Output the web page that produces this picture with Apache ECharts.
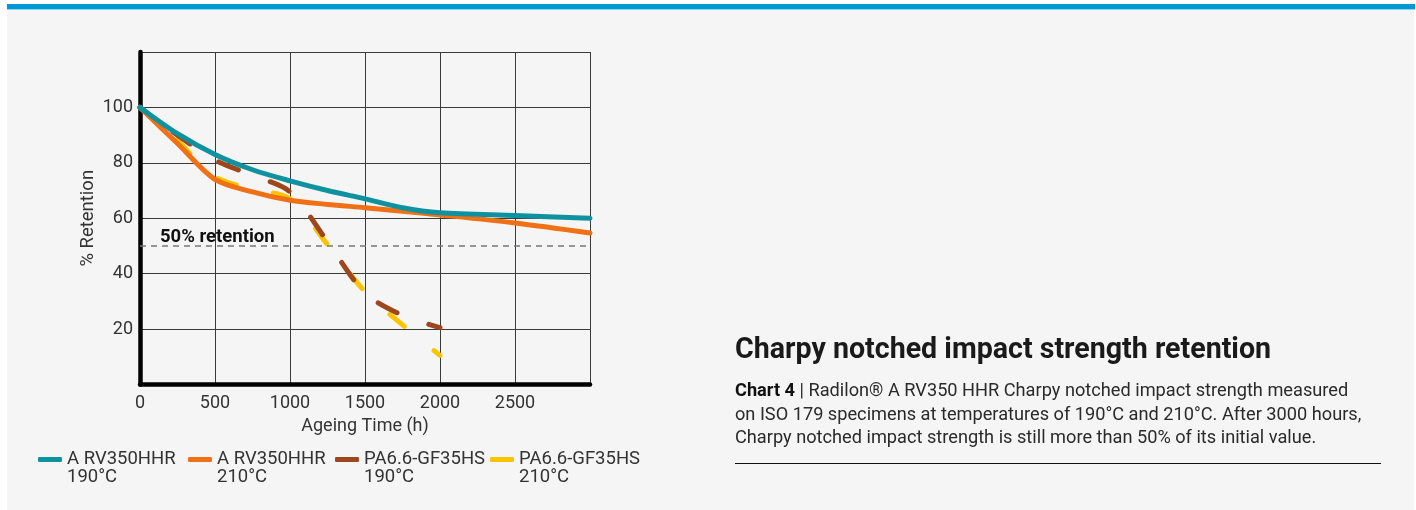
<!DOCTYPE html>
<html>
<head>
<meta charset="utf-8">
<script src="https://cdn.jsdelivr.net/npm/echarts@6/dist/echarts.min.js"></script>
<style>
  html, body { margin: 0; padding: 0; background: #ffffff; }
  #chart { width: 1416px; height: 510px; }
</style>
</head>
<body>
<div id="chart"></div>
<script>
// ---- Data ----
const hoursRV = [0, 250, 500, 750, 1000, 1250, 1500, 1750, 2000, 2500, 3000];
const rv190 = [100, 90.5, 83, 77.5, 73.5, 70, 67, 63.8, 62, 61, 60];
const rv210 = [100, 87, 74, 69.5, 66.5, 65, 63.8, 62.5, 61.2, 58.3, 54.7];

const hoursPA = [0, 250, 500, 750, 1000, 1250, 1500, 1750, 2000];
const pa190 = [100, 90, 81, 75.5, 69.5, 51.5, 33, 25, 20.5];
const pa210 = [100, 88, 75, 70.5, 67, 50.5, 33.5, 21.5, 10.5];

const seriesNames = ['A RV350HHR\n190°C', 'A RV350HHR\n210°C', 'PA6.6-GF35HS\n190°C', 'PA6.6-GF35HS\n210°C'];
const retentionLimit = 50;
const retentionLabel = '50% retention';

const titleText = 'Charpy notched impact strength retention';
const descLines = [
  '{b|Chart 4} | Radilon® A RV350 HHR Charpy notched impact strength measured',
  'on ISO 179 specimens at temperatures of 190°C and 210°C. After 3000 hours,',
  'Charpy notched impact strength is still more than 50% of its initial value.'
];

const colors = ['#0f92a0', '#f07015', '#9e461c', '#fbc400'];

function pairs(xs, ys) { return xs.map((x, i) => [x, ys[i]]); }

const chart = echarts.init(document.getElementById('chart'), null, { renderer: 'canvas' });

const FONT = 'Roboto, "Noto Sans", sans-serif';

const legendLefts = [38, 188, 335, 490];

const option = {
  backgroundColor: '#ffffff',
  animation: false,
  textStyle: { fontFamily: FONT },
  grid: { left: 140, right: 826, top: 52, bottom: 125.5, containLabel: false },
  xAxis: {
    type: 'value', min: 0, max: 3000, interval: 500,
    name: 'Ageing Time (h)', nameLocation: 'middle', nameGap: 32,
    nameTextStyle: { fontSize: 18, color: '#333', fontFamily: FONT },
    axisLine: { show: true, onZero: false, lineStyle: { color: '#000', width: 4.5 } },
    axisTick: { show: false },
    axisLabel: { fontSize: 18, color: '#333', margin: 10, fontFamily: FONT,
      formatter: v => (v === 3000 ? '' : String(v)) },
    splitLine: { show: true, lineStyle: { color: '#3a3a3a', width: 1 } }
  },
  yAxis: {
    type: 'value', min: 0, max: 120, interval: 20,
    name: '% Retention', nameLocation: 'middle', nameGap: 42.5,
    nameTextStyle: { fontSize: 18.5, color: '#333', fontFamily: FONT },
    axisLine: { show: true, onZero: false, lineStyle: { color: '#000', width: 4.5 } },
    axisTick: { show: false },
    axisLabel: { fontSize: 18, color: '#333', margin: 7, fontFamily: FONT,
      formatter: v => (v === 0 || v === 120 ? '' : String(v)) },
    splitLine: { show: true, lineStyle: { color: '#3a3a3a', width: 1 } }
  },
  legend: seriesNames.map((n, i) => ({
    data: [n], left: legendLefts[i], top: 432, orient: 'horizontal', padding: 0,
    icon: 'roundRect', itemWidth: 24, itemHeight: 5, itemGap: 4,
    formatter: name => '\n' + name,
    textStyle: { fontSize: 18.5, lineHeight: 18, color: '#333', fontFamily: FONT }
  })),
  graphic: [
    { type: 'rect', shape: { x: 7, y: 4, width: 1407, height: 506 }, style: { fill: '#f5f5f5' }, z: -10, silent: true },
    { type: 'rect', shape: { x: 7, y: 4, width: 1408, height: 5 }, style: { fill: '#0099d6' }, z: -9, silent: true },
    { type: 'rect', shape: { x: 7, y: 9, width: 1408, height: 1 }, style: { fill: '#8fd4ef' }, z: -9, silent: true },
    { type: 'text', left: 735, top: 336, style: { text: titleText, font: 'bold 28.6px ' + FONT, fill: '#1a1a1a' }, z: 10 },
    { type: 'text', left: 735, top: 380, style: {
        text: descLines.join('\n'), fontFamily: FONT, fontSize: 18.2, lineHeight: 23.5, fill: '#2a2a2a',
        rich: { b: { fontWeight: 'bold', fontFamily: FONT, fontSize: 18.2, lineHeight: 23.5, fill: '#111' } }
      }, z: 10 },
    { type: 'rect', shape: { x: 735, y: 463, width: 646, height: 1 }, style: { fill: '#111' }, z: 10, silent: true }
  ],
  series: [
    { name: seriesNames[3], type: 'line', data: pairs(hoursPA, pa210), smooth: 0.3, showSymbol: false, symbol: 'none',
      color: colors[3], lineStyle: { color: colors[3], width: 5, type: [19, 38], cap: 'round', dashOffset: 8 }, z: 2 },
    { name: seriesNames[2], type: 'line', data: pairs(hoursPA, pa190), smooth: 0.3, showSymbol: false, symbol: 'none',
      color: colors[2], lineStyle: { color: colors[2], width: 5, type: [21, 34], cap: 'round', dashOffset: 14 }, z: 3 },
    { name: seriesNames[1], type: 'line', data: pairs(hoursRV, rv210), smooth: 0.3, showSymbol: false, symbol: 'none',
      color: colors[1], lineStyle: { color: colors[1], width: 5, cap: 'round' }, z: 4 },
    { name: seriesNames[0], type: 'line', data: pairs(hoursRV, rv190), smooth: 0.3, showSymbol: false, symbol: 'none',
      color: colors[0], lineStyle: { color: colors[0], width: 5, cap: 'round' }, z: 5,
      markLine: {
        silent: true, symbol: 'none',
        lineStyle: { color: '#777', width: 1.5, type: [6, 5] },
        label: { show: true, position: 'insideStartTop', distance: [20, -1], formatter: retentionLabel,
          fontSize: 18.5, fontWeight: 'bold', color: '#111', fontFamily: FONT },
        data: [{ yAxis: retentionLimit }]
      } }
  ]
};
chart.setOption(option);
</script>
</body>
</html>
